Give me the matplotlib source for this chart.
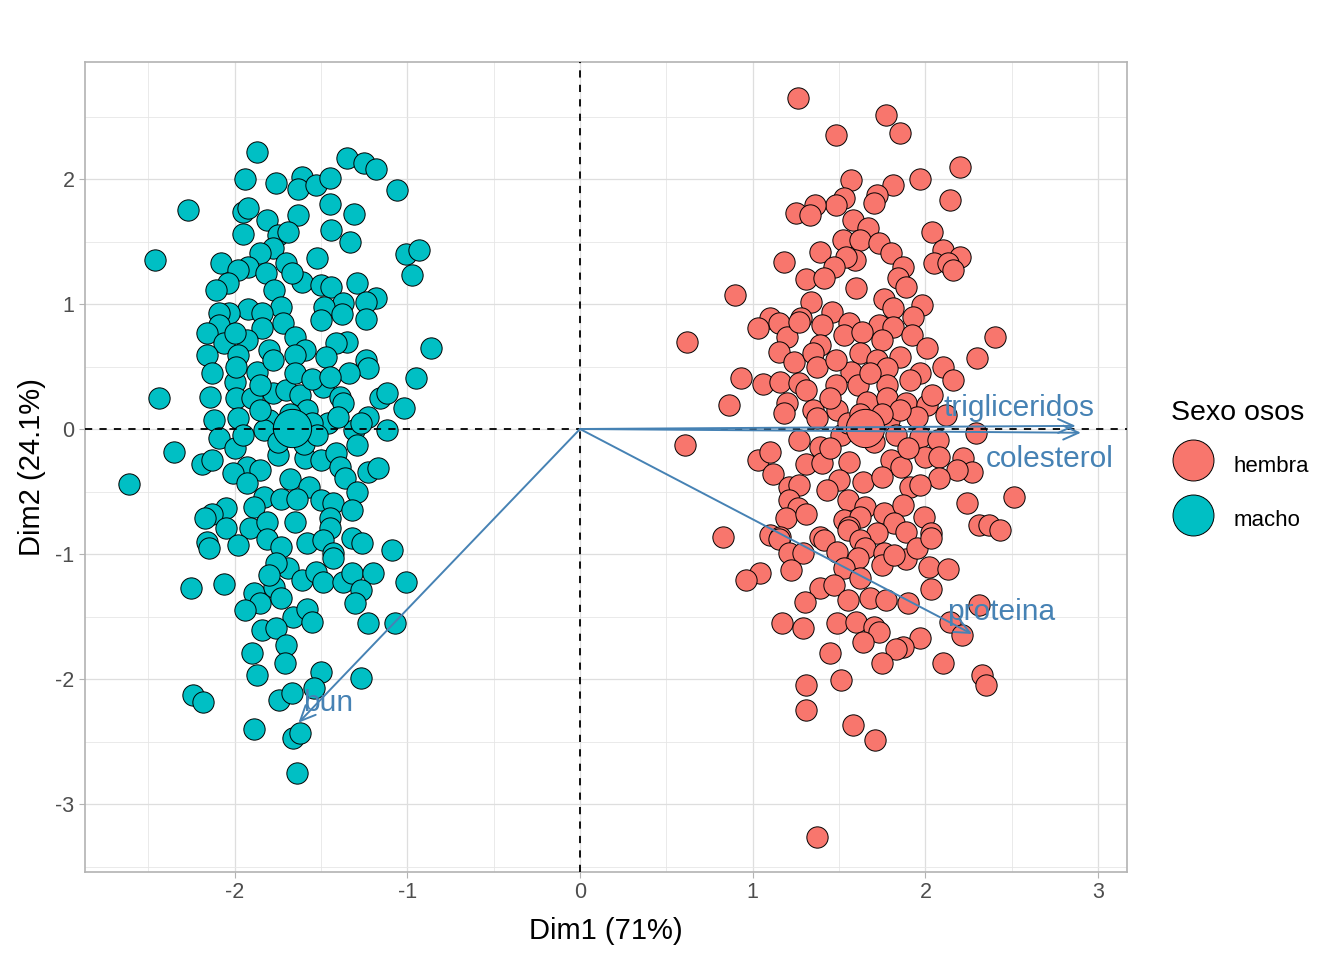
import numpy as np
import matplotlib
matplotlib.use('Agg')
import matplotlib.pyplot as plt
from matplotlib.lines import Line2D

plt.rcParams['font.family'] = ['Liberation Sans', 'DejaVu Sans']
plt.rcParams['axes.unicode_minus'] = False

# individuos "macho" (Dim1, Dim2)
macho_x = [-1.87, -1.35, -1.25, -1.18, -1.06, -1.94, -1.76, -1.61, -1.63, -1.53, -1.45, -2.27, -1.95, -1.92,
           -1.81, -1.63, -1.45, -1.31, -1.95, -1.75, -1.69, -1.44, -1.33, -2.46, -1.01, -0.93, -0.97, -1.78,
           -1.85, -2.08, -1.92, -1.98, -1.82, -1.70, -1.52, -2.04, -2.11, -1.77, -1.61, -1.50, -1.44, -1.29,
           -1.67, -1.18, -1.24, -1.24, -1.37, -1.48, -1.38, -1.50, -1.73, -1.92, -2.03, -2.09, -1.84, -1.72,
           -2.09, -1.84, -2.16, -2.06, -1.93, -2.00, -1.80, -1.65, -1.59, -1.35, -1.41, -0.86, -2.16, -1.98,
           -1.47, -1.24,
           -2.13, -2.00, -1.99, -1.87, -1.78, -1.65, -1.23, -1.34, -0.95, -2.44, -2.14, -1.99, -1.90, -1.78,
           -1.70, -1.62, -1.49, -1.39, -1.37, -1.16, -1.12, -1.02, -1.23, -1.12, -2.12, -1.98, -1.80, -1.46,
           -1.31, -1.58, -2.09, -1.83, -2.35, -2.00, -2.19, -2.13, -1.93, -1.85, -2.01, -1.75, -1.59, -1.50,
           -1.41, -1.29, -1.39, -1.23, -1.17, -2.61, -1.68, -1.57, -1.36, -1.29, -1.93, -1.83, -1.73, -1.64,
           -1.50, -1.43, -1.89, -1.32, -2.05, -2.13, -2.17, -2.05, -1.91, -1.81, -1.65, -1.45, -1.45, -2.16,
           -2.15, -1.98, -1.81, -1.73, -1.58, -1.49, -1.32, -1.26, -1.09, -1.43,
           -1.68, -1.55, -1.75, -1.60, -1.85, -1.52, -1.40, -1.95, -1.27, -1.65, -1.55, -1.85, -1.45,
           -2.25, -2.06, -1.89, -1.85, -1.94, -1.77, -1.73, -1.69, -1.76, -1.80, -1.61, -1.53, -1.49, -1.43,
           -1.37, -1.32, -1.20, -1.27, -1.30, -1.01, -1.66, -1.58, -1.55, -1.84, -1.76, -1.70, -1.23, -1.07,
           -1.90, -1.71, -1.87, -1.50, -1.27, -2.24, -2.18, -1.74, -1.67, -1.54, -1.89, -1.66, -1.62, -1.64]
macho_y = [2.22, 2.17, 2.13, 2.08, 1.91, 2.00, 1.97, 2.02, 1.92, 1.95, 2.01, 1.75, 1.74, 1.77,
           1.67, 1.71, 1.80, 1.72, 1.56, 1.55, 1.58, 1.59, 1.50, 1.35, 1.40, 1.43, 1.23, 1.45,
           1.41, 1.33, 1.30, 1.27, 1.25, 1.33, 1.37, 1.17, 1.11, 1.11, 1.18, 1.15, 1.14, 1.17,
           1.25, 1.05, 1.02, 0.88, 1.01, 0.98, 0.92, 0.87, 0.98, 0.96, 0.93, 0.93, 0.93, 0.85,
           0.83, 0.81, 0.77, 0.69, 0.71, 0.77, 0.63, 0.74, 0.63, 0.70, 0.69, 0.65, 0.59, 0.59,
           0.58, 0.55,
           0.45, 0.38, 0.50, 0.46, 0.55, 0.59, 0.49, 0.45, 0.41, 0.25, 0.26, 0.25, 0.25, 0.29,
           0.31, 0.27, 0.34, 0.26, 0.21, 0.25, 0.29, 0.17, 0.10, -0.01, 0.07, 0.09, 0.07, 0.05,
           -0.01, 0.15, -0.07, -0.01, -0.18, -0.15, -0.28, -0.25, -0.30, -0.33, -0.35, -0.21, -0.23, -0.25,
           -0.19, -0.13, -0.30, -0.34, -0.31, -0.44, -0.40, -0.46, -0.39, -0.50, -0.43, -0.54, -0.56, -0.56,
           -0.57, -0.59, -0.62, -0.65, -0.63, -0.68, -0.71, -0.79, -0.79, -0.74, -0.74, -0.71, -0.79, -0.90,
           -0.95, -0.93, -0.88, -0.94, -0.91, -0.89, -0.87, -0.91, -0.97, -0.99,
           0.12, 0.05, -0.10, -0.12, 0.15, -0.05, 0.10, -0.05, 0.05, 0.45, 0.40, 0.35, 0.42,
           -1.27, -1.24, -1.31, -1.39, -1.45, -1.26, -1.35, -1.11, -1.07, -1.17, -1.21, -1.14, -1.22, -1.03,
           -1.22, -1.15, -1.15, -1.29, -1.39, -1.22, -1.50, -1.44, -1.54, -1.61, -1.59, -1.73, -1.55, -1.55,
           -1.79, -1.87, -1.97, -1.94, -1.99, -2.13, -2.18, -2.17, -2.11, -2.07, -2.40, -2.47, -2.43, -2.75]

# individuos "hembra" (Dim1, Dim2)
hembra_x = [1.26, 1.48, 1.77, 1.85, 2.20, 1.97, 1.57, 1.81, 2.14, 1.53, 1.48, 1.72, 1.70, 1.36, 1.25,
            1.33, 1.58, 1.67, 2.04, 1.52, 1.62, 1.73, 1.80, 2.10, 2.20, 2.05, 2.13, 2.16, 1.39, 1.18,
            1.59, 1.54, 1.47, 1.87, 1.84, 1.89, 1.31, 1.41, 1.60, 0.90, 1.34, 1.76, 1.98, 1.81, 1.93,
            1.46, 1.28, 1.10, 1.15, 1.03, 1.40, 1.56, 1.73, 1.81, 2.40,
            0.62, 1.20, 1.27, 1.39, 1.53, 1.63, 1.75, 1.92, 2.01, 1.85, 2.30, 1.15, 1.24, 1.35, 1.62,
            1.72, 1.37, 1.57, 1.78, 1.97, 2.10, 2.16, 0.93, 1.06, 1.16, 1.27, 1.48, 1.61, 1.78, 1.91,
            1.31, 0.86, 1.20, 1.18, 1.35, 1.49, 1.66, 1.78, 1.89, 2.01, 2.04, 1.95, 2.12, 1.37, 1.79,
            2.29, 0.61, 1.27, 1.39, 1.51, 1.83, 1.97, 2.07, 1.03, 1.10, 1.31, 1.40, 1.56, 1.80, 1.86,
            2.00, 2.08, 2.22, 2.27, 2.18, 1.12, 1.50, 1.64, 1.75, 1.91, 2.08, 1.21, 1.27, 1.21, 1.26,
            1.43, 1.55, 1.65, 1.76, 1.87, 1.97, 1.99, 2.24, 2.51, 1.19, 1.31, 1.53, 1.62, 1.82, 2.31,
            2.37, 2.43, 0.83, 1.10, 1.16, 1.39, 1.56, 1.72, 1.89, 2.03,
            1.55, 1.70, 1.62, 1.45, 1.85, 1.75, 1.48, 1.68, 1.45, 1.90,
            1.15, 1.21, 1.29, 1.22, 1.04, 0.96, 1.41, 1.49, 1.55, 1.62, 1.65, 1.61, 1.53, 1.62, 1.76,
            1.75, 1.89, 1.82, 1.95, 2.03, 2.02, 2.13, 2.03, 1.39, 1.47, 1.55, 1.30, 1.68, 1.77, 1.90,
            2.31, 2.14, 2.21, 1.17, 1.29, 1.49, 1.60, 1.70, 1.73, 1.64, 1.97, 1.87, 1.83, 1.45, 1.75,
            2.10, 2.33, 2.35, 1.31, 1.51, 1.31, 1.58, 1.71, 1.37]
hembra_y = [2.65, 2.35, 2.51, 2.37, 2.10, 2.00, 1.99, 1.95, 1.83, 1.85, 1.79, 1.87, 1.81, 1.79, 1.73,
            1.71, 1.67, 1.61, 1.58, 1.51, 1.51, 1.49, 1.41, 1.43, 1.38, 1.33, 1.33, 1.27, 1.42, 1.34,
            1.35, 1.38, 1.30, 1.30, 1.21, 1.14, 1.20, 1.21, 1.13, 1.07, 1.02, 1.04, 0.99, 0.97, 0.90,
            0.94, 0.89, 0.89, 0.85, 0.81, 0.83, 0.85, 0.83, 0.82, 0.74,
            0.70, 0.74, 0.86, 0.67, 0.75, 0.78, 0.71, 0.75, 0.65, 0.58, 0.57, 0.62, 0.54, 0.61, 0.61,
            0.55, 0.50, 0.46, 0.49, 0.45, 0.50, 0.39, 0.41, 0.36, 0.38, 0.37, 0.35, 0.35, 0.35, 0.39,
            0.31, 0.19, 0.21, 0.13, 0.15, 0.15, 0.22, 0.25, 0.21, 0.19, 0.27, 0.10, 0.11, 0.09, 0.07,
            -0.03, -0.13, -0.09, -0.14, -0.05, -0.05, -0.06, -0.09, -0.25, -0.18, -0.28, -0.27, -0.26, -0.25, -0.30,
            -0.22, -0.22, -0.23, -0.34, -0.33, -0.36, -0.41, -0.42, -0.38, -0.46, -0.39, -0.46, -0.45, -0.57, -0.63,
            -0.49, -0.57, -0.62, -0.67, -0.61, -0.45, -0.70, -0.59, -0.54, -0.71, -0.68, -0.73, -0.70, -0.75, -0.77,
            -0.77, -0.81, -0.86, -0.85, -0.86, -0.86, -0.78, -0.83, -0.82, -0.83,
            0.05, -0.10, 0.12, -0.15, 0.15, 0.12, 0.55, 0.45, 0.25, -0.15,
            -0.88, -0.99, -0.99, -1.13, -1.15, -1.21, -0.89, -0.98, -0.81, -0.89, -0.95, -1.03, -1.11, -1.19, -0.99,
            -1.09, -1.04, -1.01, -0.95, -0.87, -1.10, -1.12, -1.28, -1.27, -1.25, -1.37, -1.38, -1.35, -1.37, -1.39,
            -1.41, -1.54, -1.65, -1.55, -1.59, -1.55, -1.54, -1.58, -1.62, -1.70, -1.67, -1.74, -1.76, -1.79, -1.87,
            -1.87, -1.97, -2.05, -2.05, -2.01, -2.25, -2.37, -2.49, -3.26]

# centroides de cada grupo
grupos = ['hembra', 'macho']
centro_x = [1.65, -1.67]
centro_y = [0.005, 0.01]
colores = ['#F8766D', '#00BFC4']

# variables (flechas)
variables = ['trigliceridos', 'colesterol', 'proteina', 'bun']
var_x = [2.87, 2.90, 2.27, -1.63]
var_y = [0.025, -0.03, -1.64, -2.35]
etiqueta_x = [2.54, 2.72, 2.44, -1.46]
etiqueta_y = [0.17, -0.24, -1.46, -2.19]

azul = '#4682B4'

fig = plt.figure(figsize=(13.44, 9.6), dpi=100)
ax = fig.add_axes([85 / 1344, 88 / 960, 1042 / 1344, 810 / 960])

ax.set_xlim(-2.866, 3.167)
ax.set_ylim(-3.544, 2.936)

ax.set_xticks([-2, -1, 0, 1, 2, 3])
ax.set_yticks([-3, -2, -1, 0, 1, 2])
ax.set_xticks(np.arange(-2.5, 3.01, 0.5), minor=True)
ax.set_yticks(np.arange(-3.5, 2.51, 0.5), minor=True)
ax.grid(True, which='major', color='#dedede', lw=0.9, zorder=0)
ax.grid(True, which='minor', color='#e6e6e6', lw=0.6, zorder=0)
ax.set_axisbelow(True)
ax.tick_params(which='major', colors='#b3b3b3', length=4, width=0.8,
               labelcolor='#4d4d4d', labelsize=15.5)
ax.tick_params(which='minor', length=0)
for s in ax.spines.values():
    s.set_color('#b3b3b3')
    s.set_linewidth(1.2)

ax.scatter(hembra_x, hembra_y, s=235, c=colores[0], edgecolors='black', linewidths=0.7, zorder=2)
ax.scatter(macho_x, macho_y, s=235, c=colores[1], edgecolors='black', linewidths=0.7, zorder=2)
for i in range(len(grupos)):
    ax.scatter(centro_x[i], centro_y[i], s=760, c=colores[i], edgecolors='black', linewidths=0.7, zorder=3)

ax.axhline(0, color='black', ls=(0, (4, 4)), lw=1.3, zorder=4)
ax.axvline(0, color='black', ls=(0, (4, 4)), lw=1.3, zorder=4)

for i, v in enumerate(variables):
    ax.annotate('', xy=(var_x[i], var_y[i]), xytext=(0, 0),
                arrowprops=dict(arrowstyle='->,head_length=0.55,head_width=0.25', color=azul,
                                lw=1.4, shrinkA=0, shrinkB=0, mutation_scale=20), zorder=5)
    ax.text(etiqueta_x[i], etiqueta_y[i], v, color=azul, fontsize=21.5, ha='center', va='center', zorder=6)

ax.set_xlabel('Dim1 (71%)', fontsize=21, labelpad=10)
ax.set_ylabel('Dim2 (24.1%)', fontsize=21, labelpad=7)

handles = [Line2D([], [], ls='', marker='o', markersize=29.5, markerfacecolor=colores[i],
                  markeredgecolor='black', markeredgewidth=0.7) for i in range(len(grupos))]
leg = fig.legend(handles, grupos, title='Sexo osos', loc='upper left',
                 bbox_to_anchor=(1162 / 1344, 1 - 391 / 960), frameon=False,
                 fontsize=16, title_fontsize=20.5, handletextpad=0.8, labelspacing=1.03,
                 handleheight=1.8, borderaxespad=0)
leg._legend_box.align = 'left'

fig.savefig('out.png', dpi=100)
